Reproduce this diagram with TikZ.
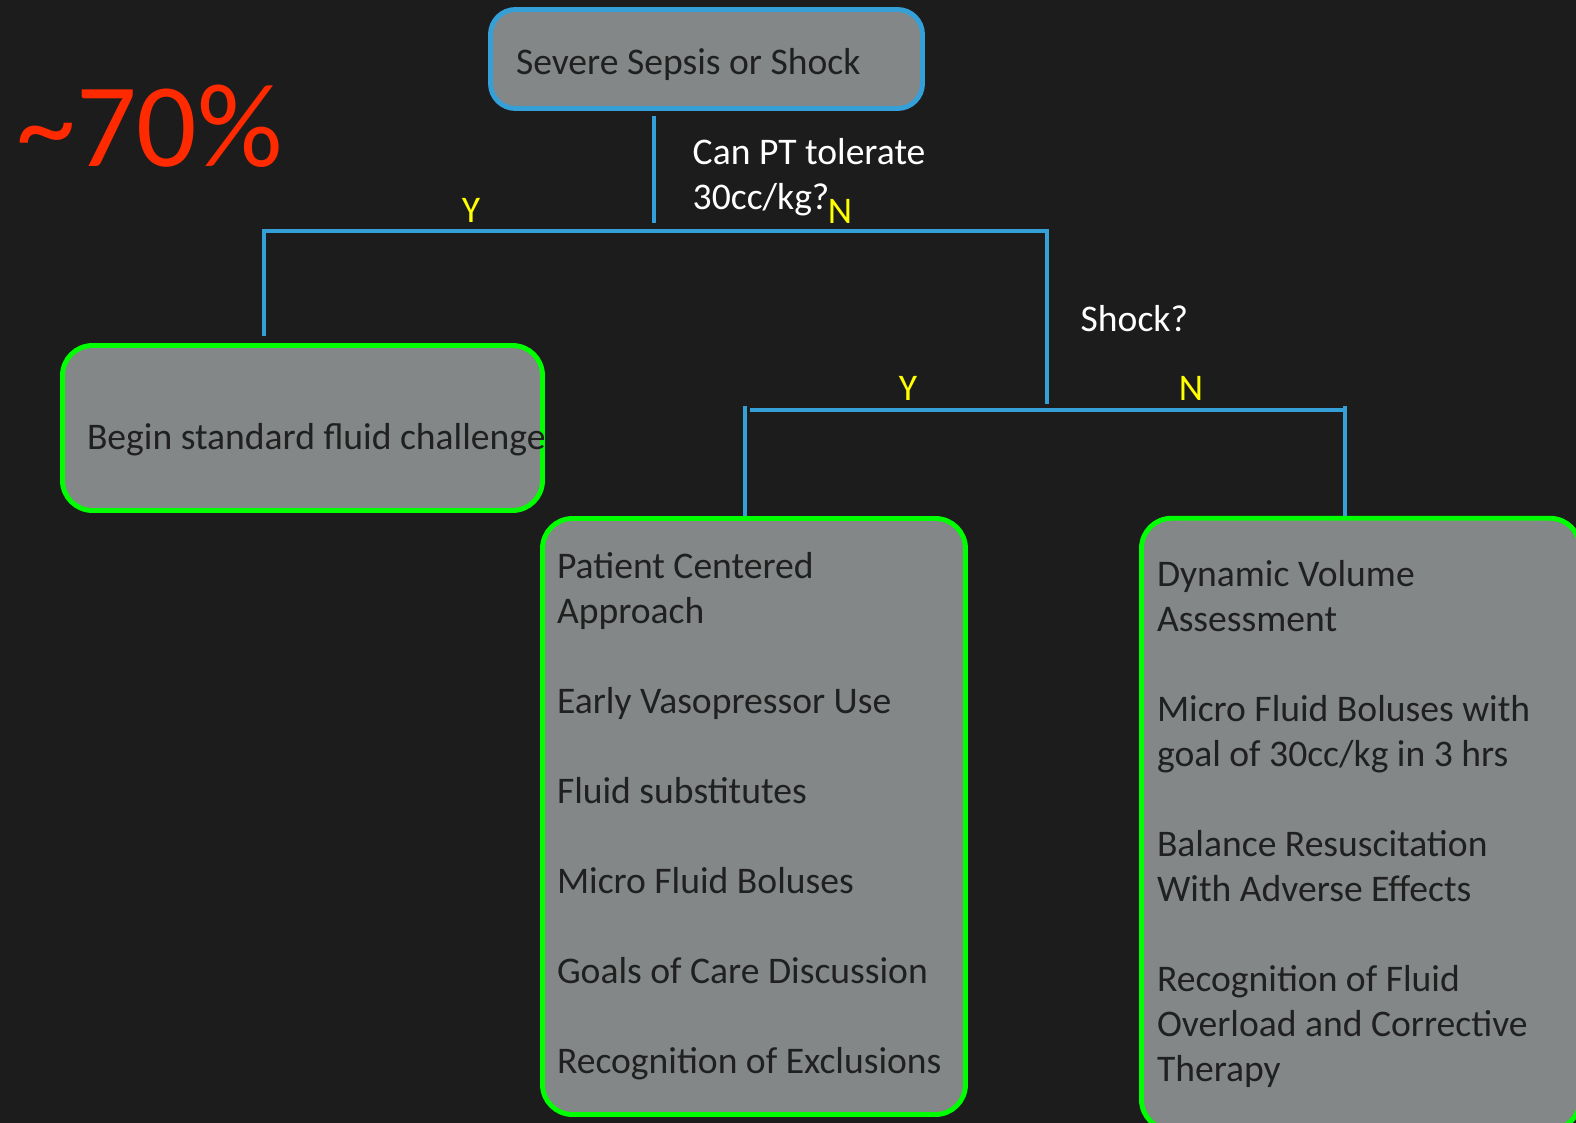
\documentclass[tikz,border=0pt]{standalone}
\usepackage{fontspec}
\setmainfont{Carlito}
\usepackage{tikz}
\definecolor{bgdark}{HTML}{1C1C1C}
\definecolor{boxgray}{HTML}{838787}
\definecolor{lineblue}{HTML}{35A0D8}
\definecolor{boxgreen}{HTML}{00FF00}
\definecolor{pctred}{HTML}{FF2A00}
\definecolor{ynyellow}{HTML}{FFFF00}
\definecolor{boxtext}{HTML}{202020}

\begin{document}
\begin{tikzpicture}[scale=1,
  every node/.style={font=\fontsize{10.7}{12.8}\selectfont},
  bluebox/.style={draw=lineblue,line width=1.4pt,fill=boxgray,rounded corners=0.25cm,text=boxtext},
  greenbox/.style={draw=boxgreen,line width=1.4pt,fill=boxgray,rounded corners=0.3cm,text=boxtext,align=flush left},
  link/.style={draw=lineblue,line width=1.3pt},
  yn/.style={text=ynyellow,inner sep=0pt},
  question/.style={text=white,inner sep=0pt,align=flush left}]
\useasboundingbox (0,0) rectangle (15.76,-11.23) ;
\fill[bgdark] (0,0) rectangle (15.76,-11.23) ;
\clip (0,0) rectangle (15.76,-11.23) ;
% boxes
\node (sepsis) [bluebox,minimum width=4.32cm,minimum height=0.99cm,inner xsep=0.255cm,text height=0.30cm,text depth=0cm] at (7.065,-0.59) {\makebox[3.81cm][l]{Severe Sepsis or Shock}} ;
\node (standard) [greenbox,minimum width=4.8cm,minimum height=1.65cm,inner xsep=0.245cm,text height=0.42cm,text depth=0cm] at (3.025,-4.28) {\makebox[4.31cm][l]{Begin standard fluid challenge}} ;
\node (shockyes) [greenbox,minimum height=5.96cm,text width=3.94cm,inner xsep=0.145cm] at (7.54,-8.165) {Patient Centered\\Approach\\[\baselineskip]Early Vasopressor Use\\[\baselineskip]Fluid substitutes\\[\baselineskip]Micro Fluid Boluses\\[\baselineskip]Goals of Care Discussion\\[\baselineskip]Recognition of Exclusions} ;
\node (shockno) [greenbox,minimum height=6.115cm,text width=4.075cm,inner xsep=0.155cm] at (13.6075,-8.24) {Dynamic Volume\\Assessment\\[\baselineskip]Micro Fluid Boluses with\\goal of 30cc/kg in 3 hrs\\[\baselineskip]Balance Resuscitation\\With Adverse Effects\\[\baselineskip]Recognition of Fluid\\Overload and Corrective\\Therapy} ;
% labels
\node (pct) [text=pctred,inner sep=0pt,anchor=base west,font=\fontsize{34}{40}\selectfont] at (0.16,-1.66) {\textasciitilde70\%} ;
\node (tolerate) [question,anchor=west] at (6.92,-1.77) {Can PT tolerate\\30cc/kg?} ;
\node (shockq) [question,anchor=west] at (10.80,-3.19) {Shock?} ;
\node (y1) [yn] at (4.71,-2.10) {Y} ;
\node (n1) [yn] at (8.40,-2.11) {N} ;
\node (y2) [yn] at (9.08,-3.88) {Y} ;
\node (n2) [yn] at (11.91,-3.88) {N} ;
% connectors
\coordinate (t1) at (6.54,-1.16) ;
\coordinate (t2) at (6.54,-2.23) ;
\coordinate (s1) at (2.64,-3.36) ;
\coordinate (k1) at (10.47,-2.31) ;
\coordinate (s2) at (10.47,-4.04) ;
\coordinate (h1) at (7.50,-4.10) ;
\coordinate (h2) at (13.45,-4.10) ;
\coordinate (u1) at (7.45,-4.06) ;
\coordinate (u2) at (13.45,-4.06) ;
\draw[link] (t1) -- (t2) ;
\draw[link] (s1) |- (k1) -- (s2) ;
\draw[link] (h1) -- (h2) ;
\draw[link] (u1) -- (u1 |- shockyes.north) ;
\draw[link] (u2) -- (u2 |- shockno.north) ;
\end{tikzpicture}
\end{document}
